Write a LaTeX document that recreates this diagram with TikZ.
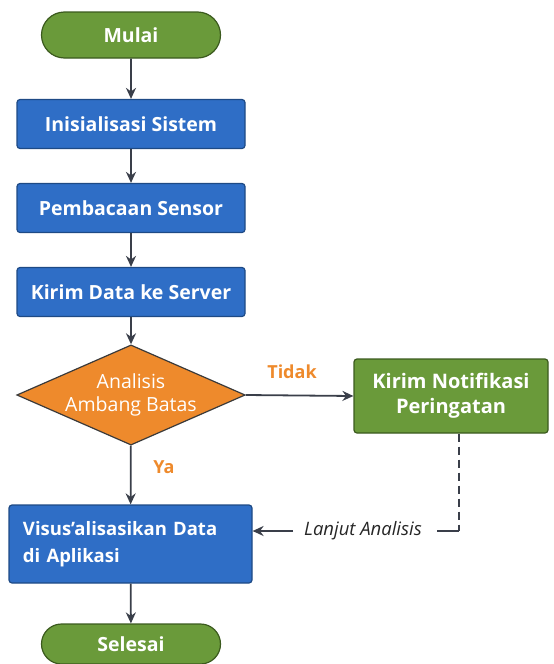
\documentclass[tikz,border=0pt]{standalone}
\usepackage{fontspec}
\setmainfont{Open Sans}
\usetikzlibrary{shapes.geometric,shapes.misc,arrows.meta}
\definecolor{bluefill}{HTML}{2F6EC6}
\definecolor{blueedge}{HTML}{1E4A85}
\definecolor{greenfill}{HTML}{6A9A3A}
\definecolor{greenedge}{HTML}{3B5A1E}
\definecolor{orangefill}{HTML}{EE8A2C}
\definecolor{orangeedge}{HTML}{3A3A3A}
\definecolor{linecol}{HTML}{3A3F4A}
\tikzset{
  base/.style={text=white,font=\bfseries\fontsize{19.5}{24}\selectfont,line width=1.2pt,inner sep=0pt},
  term/.style={base,rounded rectangle,draw=greenedge,fill=greenfill,minimum width=179pt,minimum height=46pt},
  proc/.style={base,rectangle,rounded corners=3pt,draw=blueedge,fill=bluefill,minimum width=228pt,minimum height=49pt},
  dec/.style={base,diamond,shape aspect=2.28,draw=orangeedge,fill=orangefill,minimum width=228pt,minimum height=100pt,align=center,font=\fontsize{19.5}{23}\selectfont},
  note/.style={base,rectangle,rounded corners=3pt,draw=greenedge,fill=greenfill,minimum width=194pt,minimum height=74pt,align=center,font=\bfseries\fontsize{20}{25}\selectfont},
  conn/.style={draw=linecol,line width=1.8pt,-{Stealth[length=11pt,width=10pt]}},
  lbl/.style={text=orangefill,font=\bfseries\fontsize{18}{22}\selectfont,inner sep=0pt}
}
\begin{document}
\begin{tikzpicture}[x=1pt,y=-1pt]
\useasboundingbox (0,0) rectangle (554,664);
\node[term] (mulai) at (131,35) {Mulai};
\node[proc] (init) at (131,124) {Inisialisasi Sistem};
\node[proc] (baca) at (131,208) {Pembacaan Sensor};
\node[proc] (kirim) at (131,292) {Kirim Data ke Server};
\node[dec] (anal) at (131,395) {Analisis\\Ambang Batas};
\node[note] (notif) at (451,396) {Kirim Notifikasi\\Peringatan};
\node[proc,minimum width=243pt,minimum height=78pt,align=left,text width=215pt,font=\bfseries\fontsize{18.5}{27}\selectfont] (vis) at (130.5,544) {Visus'alisasikan Data\\di Aplikasi};
\node[term,minimum height=40pt] (selesai) at (131,644) {Selesai};
\draw[conn] (mulai) -- (init);
\draw[conn] (init) -- (baca);
\draw[conn] (baca) -- (kirim);
\draw[conn] (kirim) -- (anal);
\draw[conn] (anal.east) -- (notif.west);
\draw[conn] (anal) -- (vis);
\draw[conn] (vis) -- (selesai);
\node[lbl] (tidak) at (292,372) {Tidak};
\node[lbl] (ya) at (164,467) {Ya};
\node[font=\itshape\fontsize{18.5}{22}\selectfont,text=black!85,inner sep=0pt] (lanjut) at (363,531) {Lanjut Analisis};
\coordinate (c1) at (459,433);
\coordinate (c2) at (459,531);
\coordinate (c3) at (437,531);
\draw[draw=linecol,line width=1.3pt,dash pattern=on 8pt off 5pt] (notif.south -| c1) -- (c2);
\draw[draw=linecol,line width=1.3pt] (c2) -- (c3);
\coordinate (c4) at (293,531);
\draw[conn] (c4) -- (vis.east |- c4);
\end{tikzpicture}
\end{document}
